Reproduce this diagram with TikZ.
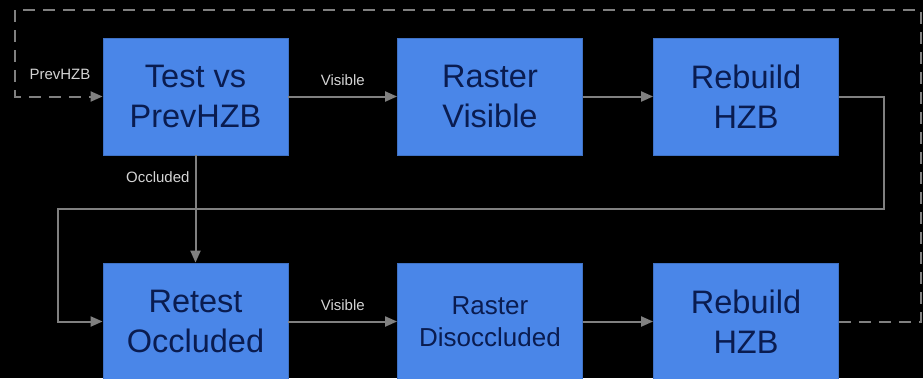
\documentclass[tikz,border=0pt]{standalone}
\usepackage{fontspec}
\setmainfont{Liberation Sans}
\usepackage{xcolor}
\usetikzlibrary{positioning,arrows.meta,calc}

\definecolor{boxblue}{HTML}{4A86E8}
\definecolor{boxtext}{HTML}{0A1C50}
\definecolor{linegray}{HTML}{808080}
\definecolor{lblgray}{HTML}{D4D4D4}

\begin{document}
\begin{tikzpicture}[
          x=1pt, y=-1pt,
          pass/.style={fill=boxblue, draw=boxblue!85!black, line width=0.8pt, minimum width=185pt, minimum height=117pt, align=center, font=\fontsize{32.5}{40}\selectfont, text=boxtext, inner sep=0pt},
          smallpass/.style={pass, font=\fontsize{26}{32}\selectfont},
          lbl/.style={font=\fontsize{15}{17}\selectfont, text=lblgray, inner sep=2pt},
          arr/.style={-{Triangle[length=12pt,width=10pt]}, draw=linegray, line width=2pt},
          loop/.style={arr, dash pattern=on 12pt off 8pt}
      ]
        \fill[black] (0,0) rectangle (923,378);
        \useasboundingbox (0,0) rectangle (923,378);
        % first pass: test against last frame's HZB
        \node[pass] (testprev) at (195.5,96.5) {Test vs\\PrevHZB};
        \node[pass] (rastervis) at (490,96.5) {Raster\\Visible};
        \node[pass] (rebuildA) at (746,96.5) {Rebuild\\HZB};
        % second pass: retest what was occluded
        \node[pass] (retest) at (195.5,321.5) {Retest\\Occluded};
        \node[smallpass] (rasterdis) at (490,321.5) {Raster\\Disoccluded};
        \node[pass] (rebuildB) at (746,321.5) {Rebuild\\HZB};
        \coordinate (turnA) at (884,209);
        \coordinate (turnB) at (58,209);
        \coordinate (loopA) at (921,321.5);
        \coordinate (loopB) at (15,10);
        \draw[arr] (testprev) -- node[lbl, above=8pt] {Visible} (rastervis);
        \draw[arr] (rastervis) -- (rebuildA);
        \draw[arr] (rebuildA) -| (turnA) -- (turnB) |- (retest);
        \draw[arr] (testprev) -- node[lbl, pos=0.2, left=3pt] {Occluded} (retest);
        \draw[arr] (retest) -- node[lbl, above=8pt] {Visible} (rasterdis);
        \draw[arr] (rasterdis) -- (rebuildB);
        \draw[loop] (rebuildB) -- (loopA) |- (loopB) |- (testprev);
        \node[lbl] (prevlbl) at (60,74) {PrevHZB};
      \end{tikzpicture}
\end{document}
